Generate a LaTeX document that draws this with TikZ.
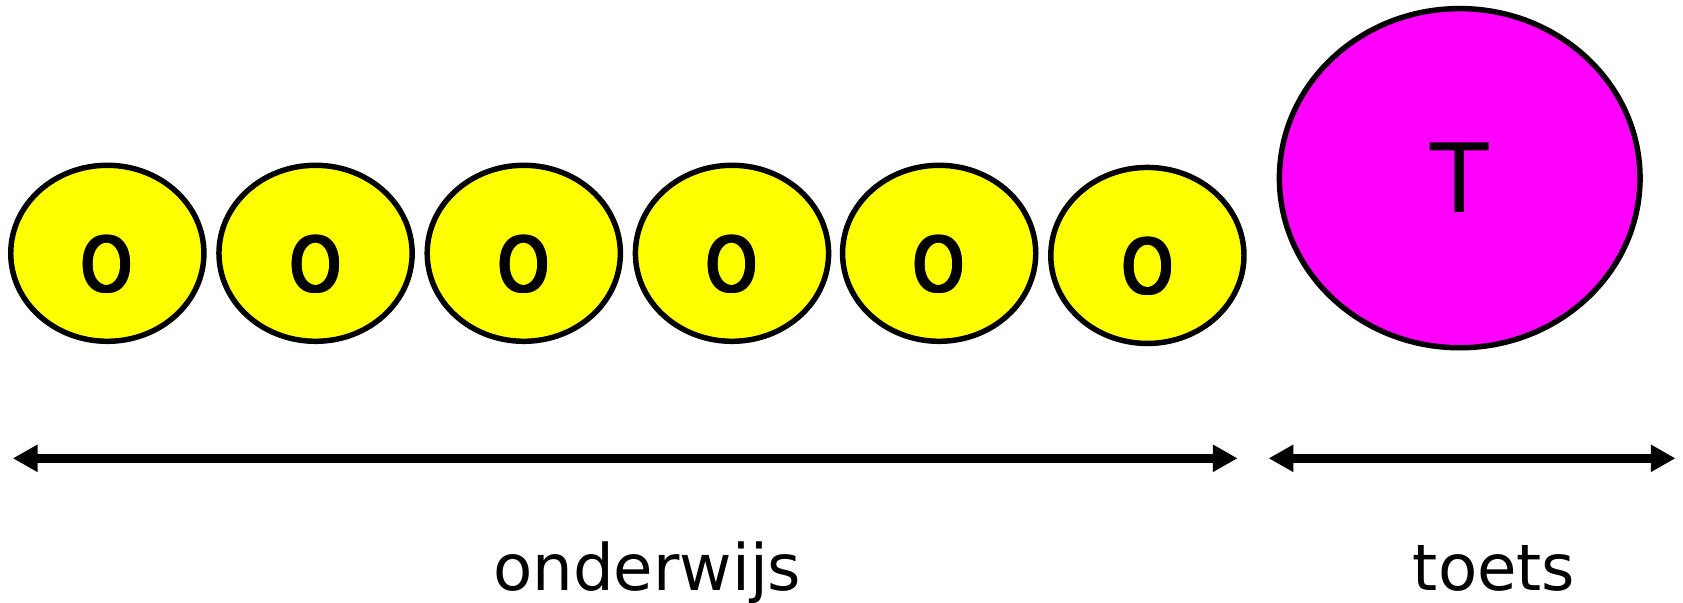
\documentclass[tikz,border=0pt]{standalone}
\usepackage{fontspec}
\setmainfont{DejaVu Sans}
\usetikzlibrary{arrows.meta,shapes.geometric}
\definecolor{yelfill}{RGB}{255,255,0}
\definecolor{magfill}{RGB}{255,0,255}
\newcommand{\thickO}{\rlap{O}\rlap{\raisebox{0.5pt}{O}}\rlap{\kern0.9pt\raisebox{0.5pt}{O}}\rlap{\kern0.45pt\raisebox{0.25pt}{O}}\kern0.9pt O}
\begin{document}
\begin{tikzpicture}[x=0.01cm,y=-0.01cm,
  ring/.style={line width=1.45pt},
  otext/.style={font=\fontsize{19.8}{19.8}\selectfont,xscale=0.88,inner sep=0pt},
  dim/.style={line width=2.4pt,{Triangle[length=0.23cm,width=0.24cm]}-{Triangle[length=0.23cm,width=0.24cm]}},
  lbl/.style={font=\fontsize{17}{17}\selectfont,anchor=base}]
\useasboundingbox (0,0) rectangle (1568,561);
\foreach \i/\cx/\cy in {1/100/236,2/294/236,3/488/236,4/682/236,5/875/236,6/1069/238}{
  \fill[yelfill] (\cx,\cy) ellipse [x radius=90,y radius=82];
  \draw[ring] (\cx,\cy) ellipse [x radius=90,y radius=82];
  \node[otext] (o\i) at (\cx,\cy+10) {\thickO};
}
\fill[magfill] (1360,166) ellipse [x radius=168,y radius=158];
\draw[ring] (1360,166) ellipse [x radius=168,y radius=158];
\node[font=\fontsize{25.3}{25.3}\selectfont,inner sep=0pt] (t) at (1360,166) {T};
\coordinate (a1) at (12,427);
\coordinate (a2) at (1153,427);
\coordinate (b1) at (1182,427);
\coordinate (b2) at (1561,427);
\draw[dim] (a1) -- (a2);
\draw[dim] (b1) -- (b2);
\node[lbl] (ond) at (603,550) {onderwijs};
\node[lbl] (toe) at (1392,550) {toets};
\end{tikzpicture}
\end{document}
